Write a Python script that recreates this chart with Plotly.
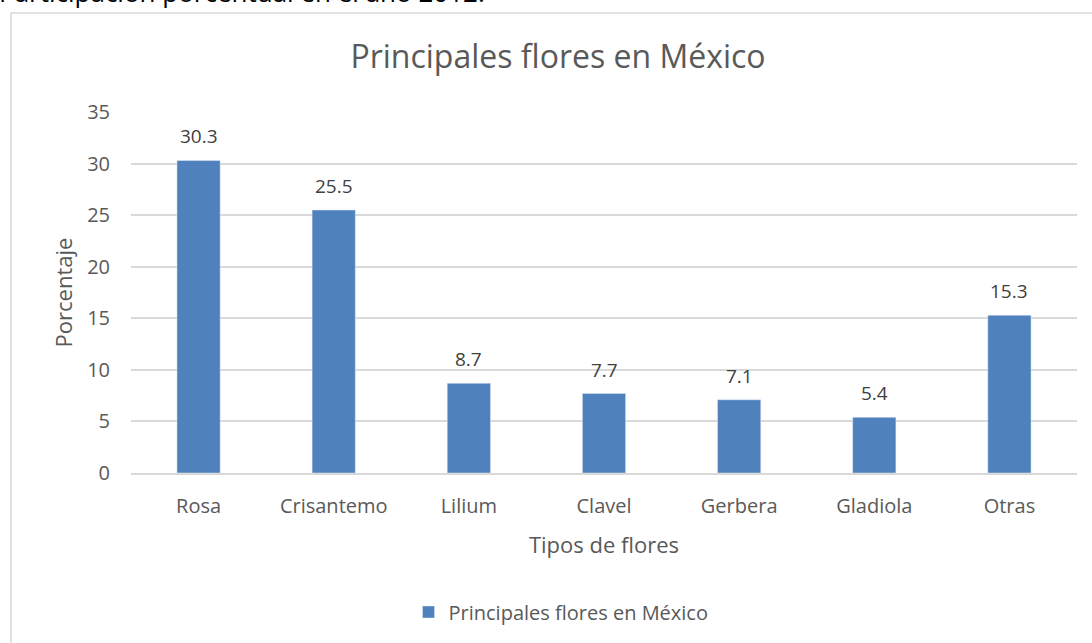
import plotly.graph_objects as go

categories = ["Rosa", "Crisantemo", "Lilium", "Clavel", "Gerbera", "Gladiola", "Otras"]
values = [30.3, 25.5, 8.7, 7.7, 7.1, 5.4, 15.3]
series_name = "Principales flores en México"
y_ticks = [0, 5, 10, 15, 20, 25, 30, 35]

FONT = "Open Sans"
W, H = 1092, 643
ml, mt = 131, 112
pw, ph = 946, 361
mr = W - ml - pw
mb = H - mt - ph

def px_x(p):  # page pixel -> paper x
    return (p - ml) / pw

def px_y(p):  # page pixel -> paper y
    return (mt + ph - p) / ph

fig = go.Figure()
fig.add_trace(go.Bar(
    x=categories, y=values, name=series_name,
    marker=dict(color="#4f81bd"),
))

for c, v in zip(categories, values):
    fig.add_annotation(x=c, y=v, text=f"{v:.1f}", showarrow=False, yanchor="middle",
                       yshift=24, font=dict(size=19, color="#404040", family=FONT))

fig.update_layout(
    width=W, height=H,
    margin=dict(l=ml, r=mr, t=mt, b=mb),
    paper_bgcolor="white", plot_bgcolor="white",
    font=dict(family=FONT, color="#595959"),
    bargap=0.68,
    title=dict(text="Principales flores en México", x=558 / W, xanchor="center",
               y=1 - 57 / H, yanchor="middle",
               font=dict(size=32, color="#595959", family=FONT)),
    xaxis=dict(showgrid=False, showline=True, linecolor="#d9d9d9", linewidth=1.5,
               tickfont=dict(size=20, color="#595959"), ticks="",
               ticklabelstandoff=14,
               title=dict(text="Tipos de flores", font=dict(size=22, color="#595959"), standoff=20)),
    yaxis=dict(range=[0, 35], tickvals=y_ticks, showgrid=True, gridcolor="#d9d9d9",
               gridwidth=1.5, zeroline=False, tickfont=dict(size=20, color="#595959"), ticks="",
               ticklabelstandoff=20,
               title=dict(text="Porcentaje", font=dict(size=22, color="#595959"), standoff=8)),
    showlegend=True,
    legend=dict(orientation="h", x=px_x(561), xanchor="center", y=px_y(612), yanchor="middle",
                font=dict(size=20, color="#595959")),
)

fig.add_shape(type="rect", xref="paper", yref="paper",
              x0=px_x(11), x1=px_x(1130), y0=px_y(13), y1=px_y(720),
              line=dict(color="#d9d9d9", width=1.5), layer="below")

fig.add_annotation(text="Participación porcentual en el año 2012.", xref="paper", yref="paper",
                   x=px_x(-3), xanchor="left", y=px_y(12), yanchor="bottom", showarrow=False,
                   font=dict(size=26, color="#000000", family=FONT))

fig.write_html("out.html", config={"displayModeBar": False},
               post_script="document.body.style.margin='0';")
